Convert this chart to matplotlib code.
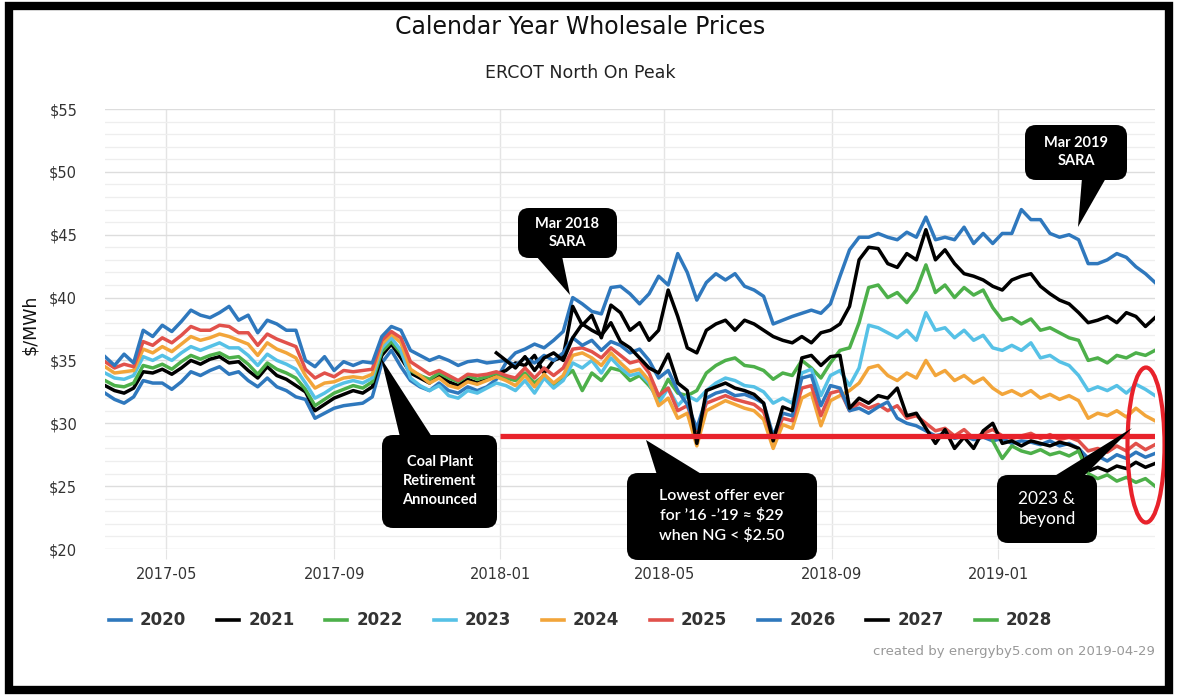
import numpy as np
import pandas as pd
import matplotlib
matplotlib.use("Agg")
import matplotlib.pyplot as plt
import matplotlib.dates as mdates
from matplotlib.ticker import MultipleLocator, FixedLocator
from matplotlib.patches import FancyBboxPatch, Polygon, Ellipse, Rectangle
from matplotlib.transforms import Affine2D
from matplotlib.lines import Line2D

# ---------------- data ----------------
dates = list(pd.date_range("2017-03-17", periods=110, freq="7D")) + [pd.Timestamp("2019-04-26")]
NA = np.nan

cy2020 = [32.4, 31.9, 31.6, 32.1, 33.4, 33.2, 33.2, 32.7, 33.3, 34.1,
          33.8, 34.2, 34.5, 33.9, 34.1, 33.4, 32.9, 33.6, 32.9, 32.6,
          32.1, 31.9, 30.4, 30.8, 31.2, 31.4, 31.5, 31.6, 32.1, 34.8,
          35.8, 34.5, 33.4, 32.9, 32.6, 33.2, 32.6, 32.4, 32.9, 32.6,
          32.9, 33.5, 34.8, 35.6, 35.9, 36.3, 36.0, 36.6, 37.3, 40.0,
          39.5, 38.9, 38.7, 40.8, 40.9, 40.3, 39.5, 40.3, 41.7, 41.0,
          43.5, 42.0, 39.8, 41.2, 41.9, 41.4, 41.9, 40.9, 40.6, 40.1,
          37.9, 38.2, 38.5, 38.75, 39.0, 38.75, 39.5, 41.7, 43.8, 44.8,
          44.8, 45.1, 44.8, 44.6, 45.2, 44.8, 46.4, 44.6, 44.8, 44.6,
          45.6, 44.3, 45.1, 44.3, 45.1, 45.1, 47.0, 46.2, 46.2, 45.1,
          44.8, 45.0, 44.6, 42.7, 42.7, 43.0, 43.5, 43.2, 42.45, 41.9, 41.2]

cy2021 = [33.0, 32.6, 32.4, 32.8, 34.1, 34.0, 34.3, 33.9, 34.4, 35.0,
          34.7, 35.1, 35.3, 34.8, 34.9, 34.2, 33.6, 34.5, 33.8, 33.5,
          33.0, 32.5, 31.0, 31.5, 32.0, 32.3, 32.6, 32.4, 32.9, 35.4,
          36.3, 35.2, 34.0, 33.6, 33.2, 33.8, 33.3, 33.0, 33.5, 33.2,
          33.5, 33.9, 34.2, 34.8, 34.6, 35.4, 34.0, 35.0, 35.3, 39.3,
          37.8, 38.6, 36.8, 39.4, 38.8, 37.4, 38.0, 36.6, 37.4, 40.6,
          38.5, 36.0, 35.6, 37.4, 37.9, 38.2, 37.4, 38.2, 37.9, 37.4,
          36.9, 36.6, 36.4, 36.9, 36.4, 37.2, 37.4, 37.9, 39.3, 43.0,
          44.0, 43.9, 42.7, 42.4, 43.5, 43.0, 45.4, 43.0, 43.8, 42.7,
          41.9, 41.7, 41.4, 40.9, 40.6, 41.4, 41.7, 41.9, 40.9, 40.3,
          39.8, 39.5, 38.8, 38.0, 38.2, 38.5, 38.0, 38.8, 38.5, 37.7, 38.4]

cy2022 = [33.4, 33.0, 32.9, 33.2, 34.6, 34.4, 34.7, 34.3, 34.9, 35.4,
          35.1, 35.4, 35.6, 35.2, 35.3, 34.7, 33.9, 34.8, 34.3, 34.0,
          33.6, 32.7, 31.4, 31.9, 32.4, 32.7, 33.0, 32.8, 33.3, 35.7,
          36.5, 35.6, 34.2, 33.8, 33.5, 34.0, 33.6, 33.3, 33.8, 33.5,
          33.7, 34.0, 33.6, 33.4, 34.0, 33.2, 33.8, 33.0, 33.6, 34.2,
          32.6, 34.0, 33.4, 34.4, 34.2, 33.4, 33.8, 33.0, 32.0, 33.5,
          32.4, 32.2, 32.6, 34.0, 34.6, 35.0, 35.2, 34.6, 34.5, 34.2,
          33.5, 34.0, 33.8, 35.0, 34.4, 33.6, 34.8, 35.8, 36.0, 38.0,
          40.8, 41.0, 40.0, 40.4, 39.6, 40.6, 42.6, 40.4, 41.0, 40.0,
          40.8, 40.2, 40.6, 39.2, 38.2, 38.4, 37.9, 38.3, 37.4, 37.6,
          37.2, 36.8, 36.6, 35.0, 35.2, 34.8, 35.4, 35.2, 35.6, 35.4, 35.8]

cy2023 = [34.0, 33.6, 33.5, 33.8, 35.3, 35.0, 35.4, 35.0, 35.6, 36.1,
          35.8, 36.1, 36.4, 36.0, 36.0, 35.4, 34.6, 35.5, 35.0, 34.7,
          34.3, 33.2, 32.0, 32.4, 32.9, 33.2, 33.4, 33.2, 33.6, 36.0,
          36.8, 35.8, 33.6, 33.0, 32.6, 33.0, 32.2, 32.0, 32.6, 32.4,
          32.8, 33.2, 33.0, 32.6, 33.4, 32.4, 33.6, 32.8, 33.4, 34.8,
          34.4, 35.0, 34.0, 35.2, 34.4, 33.8, 34.0, 33.2, 31.6, 32.8,
          31.4, 32.2, 31.8, 32.6, 33.2, 33.6, 33.4, 33.0, 32.9, 32.5,
          31.6, 32.0, 31.6, 34.0, 34.3, 32.2, 33.8, 34.2, 33.0, 34.4,
          37.8, 37.6, 37.2, 36.8, 37.4, 36.6, 38.8, 37.4, 37.6, 36.8,
          37.4, 36.6, 37.0, 36.0, 35.8, 36.2, 35.8, 36.4, 35.2, 35.4,
          34.9, 34.6, 33.8, 32.6, 32.9, 32.6, 33.0, 32.4, 33.1, 32.7, 32.2]

cy2024 = [34.5, 34.0, 34.1, 34.2, 35.9, 35.6, 36.1, 35.7, 36.3, 36.9,
          36.6, 36.8, 37.1, 36.9, 36.6, 36.3, 35.4, 36.4, 35.9, 35.6,
          35.2, 33.8, 32.8, 33.2, 33.3, 33.6, 33.7, 33.6, 33.9, 36.3,
          37.1, 36.4, 34.3, 33.8, 33.2, 33.6, 33.0, 32.8, 33.3, 33.1,
          33.4, 33.7, 33.4, 33.0, 33.8, 32.9, 33.9, 33.2, 33.8, 35.4,
          35.6, 35.2, 34.6, 35.6, 34.8, 34.1, 34.3, 33.4, 31.4, 32.0,
          30.4, 30.8, 28.2, 31.0, 31.4, 31.8, 31.5, 31.2, 31.0, 30.3,
          28.0, 29.9, 29.6, 32.0, 32.4, 29.8, 31.8, 32.2, 32.6, 33.2,
          34.4, 34.6, 33.8, 33.4, 34.0, 33.6, 35.0, 33.8, 34.2, 33.4,
          33.8, 33.2, 33.6, 32.8, 32.3, 32.6, 32.2, 32.6, 32.0, 32.3,
          31.9, 32.2, 31.8, 30.4, 30.8, 30.6, 31.0, 30.5, 31.2, 30.6, 30.2]

cy2025 = [34.9, 34.4, 34.7, 34.5, 36.5, 36.2, 36.8, 36.4, 37.0, 37.7,
          37.4, 37.4, 37.8, 37.7, 37.2, 37.2, 36.2, 37.1, 36.7, 36.4,
          36.1, 34.3, 33.6, 34.0, 33.7, 34.2, 34.1, 34.2, 34.3, 36.6,
          37.3, 36.8, 34.9, 34.4, 33.9, 34.2, 33.8, 33.4, 33.9, 33.8,
          33.9, 34.1, 33.8, 33.6, 34.4, 33.6, 34.4, 33.8, 34.4, 35.9,
          36.0, 35.7, 35.2, 36.0, 35.4, 34.8, 35.0, 34.0, 32.2, 32.8,
          31.0, 31.4, 29.4, 31.6, 31.9, 32.2, 31.9, 31.7, 31.5, 30.9,
          28.8, 30.4, 30.2, 32.8, 33.0, 30.6, 32.4, 32.6, 31.0, 31.6,
          31.2, 31.5, 31.0, 31.4, 30.4, 30.6, 30.0, 29.4, 29.6, 29.0,
          29.5, 28.8, 29.2, 29.5, 29.0, 28.8, 29.0, 29.2, 28.8, 29.1,
          28.7, 28.9, 28.6, 27.8, 28.0, 27.7, 28.2, 27.8, 28.4, 27.9, 28.3]

cy2026 = [35.3, 34.6, 35.5, 34.8, 37.4, 36.9, 37.8, 37.3, 38.1, 39.0,
          38.6, 38.4, 38.8, 39.3, 38.2, 38.6, 37.2, 38.2, 37.9, 37.4,
          37.4, 35.0, 34.5, 35.3, 34.2, 34.9, 34.6, 34.9, 34.8, 36.9,
          37.7, 37.4, 35.8, 35.4, 35.0, 35.3, 35.0, 34.6, 34.9, 35.0,
          34.8, 34.9, 35.0, 34.6, 35.2, 34.8, 35.4, 35.0, 35.6, 36.8,
          36.2, 36.6, 35.8, 36.5, 36.2, 35.6, 35.9, 35.0, 33.6, 34.2,
          32.6, 31.5, 29.6, 32.0, 32.4, 32.6, 32.2, 32.3, 32.0, 31.6,
          29.0, 30.8, 30.6, 33.6, 33.8, 31.4, 33.0, 32.8, 31.0, 31.2,
          30.8, 31.3, 31.7, 30.4, 30.0, 29.8, 29.4, 29.0, 29.2, 28.8,
          29.0, 28.7, 28.9, 28.6, 28.8, 28.4, 28.6, 28.5, 28.3, 28.6,
          28.2, 28.4, 28.0, 27.2, 27.4, 27.0, 27.5, 27.2, 27.7, 27.3, 27.6]

cy2027 = [NA] * 41 + [
          35.6, 35.0, 34.4, 35.3, 34.2, 35.2, 35.6, 35.0, 36.8,
          37.9, 37.4, 37.0, 38.0, 36.5, 36.0, 35.2, 34.4, 34.0, 35.5,
          33.2, 32.6, 28.4, 32.6, 32.9, 33.2, 32.8, 32.6, 32.3, 31.6,
          28.6, 31.3, 31.0, 35.2, 35.4, 34.6, 35.3, 35.4, 31.2, 32.0,
          31.6, 32.2, 32.0, 32.8, 30.6, 30.8, 29.6, 28.4, 29.5, 28.0,
          28.9, 28.0, 29.4, 30.0, 28.4, 28.6, 28.2, 28.6, 28.4, 28.2,
          28.5, 28.3, 28.0, 26.2, 26.5, 26.2, 26.6, 26.4, 26.9, 26.5, 26.8]

cy2028 = [NA] * 93 + [
          28.6, 27.2, 28.2, 27.8, 27.6, 27.9, 27.5, 27.7, 27.4, 27.8,
          26.0, 25.6, 25.9, 25.4, 25.7, 25.3, 25.6, 25.0]

series_names = ["2020", "2021", "2022", "2023", "2024", "2025", "2026", "2027", "2028"]
series_vals = [cy2020, cy2021, cy2022, cy2023, cy2024, cy2025, cy2026, cy2027, cy2028]
series_colors = ["#2f78bd", "#000000", "#4db04a", "#56c1e6", "#f2a53a",
                 "#e1514b", "#2f78bd", "#000000", "#4db04a"]
for v in series_vals:
    assert len(v) == len(dates), len(v)

y_ticks = [20, 25, 30, 35, 40, 45, 50, 55]
x_ticks = ["2017-05-01", "2017-09-01", "2018-01-01", "2018-05-01", "2018-09-01", "2019-01-01"]
lowest_offer = 29.0
lowest_offer_start = "2018-01-01"

# ---------------- figure ----------------
W, H = 1177, 698
fig = plt.figure(figsize=(W / 100, H / 100), dpi=100)
fig.patch.set_facecolor("white")
PX = Affine2D().scale(1, -1).translate(0, H)   # image pixel coords (top-left origin)

ax = fig.add_axes([105 / W, 1 - 549 / H, 1050 / W, 440 / H])
for s in ax.spines.values():
    s.set_visible(False)

for name, vals, col in zip(series_names, series_vals, series_colors):
    ax.plot(dates, vals, color=col, lw=2.5, solid_joinstyle="round", zorder=3)

ax.plot([pd.Timestamp(lowest_offer_start), dates[-1]], [lowest_offer, lowest_offer],
        color="#e8222b", lw=3.8, zorder=5, solid_capstyle="butt")

ax.set_xlim(pd.Timestamp("2017-03-17"), pd.Timestamp("2019-04-26"))
ax.set_ylim(20, 55)
ax.yaxis.set_major_locator(FixedLocator(y_ticks))
ax.yaxis.set_minor_locator(MultipleLocator(1))
ax.set_yticklabels([f"${t}" for t in y_ticks])
xt = [mdates.date2num(pd.Timestamp(d)) for d in x_ticks]
ax.set_xticks(xt)
ax.set_xticklabels([pd.Timestamp(d).strftime("%Y-%m") for d in x_ticks])

ax.grid(True, which="major", axis="y", color="#dddddd", lw=1.0, zorder=0)
ax.grid(True, which="minor", axis="y", color="#eeeeee", lw=0.9, zorder=0)
ax.grid(True, which="major", axis="x", color="#e4e4e4", lw=1.0, zorder=0)
ax.tick_params(axis="y", which="both", length=0, pad=20, labelsize=10.5, labelcolor="#333333")
ax.tick_params(axis="x", length=7, color="#e4e4e4", pad=6, labelsize=10.5, labelcolor="#333333")
ax.set_axisbelow(True)

# titles
fig.text(580 / W, 1 - 27 / H, "Calendar Year Wholesale Prices", ha="center", va="center",
         fontsize=17, color="#111111")
fig.text(580 / W, 1 - 73 / H, "ERCOT North On Peak", ha="center", va="center",
         fontsize=12.5, color="#222222")
fig.text(30 / W, 1 - 325 / H, "$/MWh", ha="center", va="center", rotation=90,
         fontsize=12.5, color="#111111")

# legend (manual, single row)
for k, (name, col) in enumerate(zip(series_names, series_colors)):
    x0 = 109 + 108.2 * k
    fig.add_artist(Line2D([x0, x0 + 22], [620, 620], color=col, lw=2.6, transform=PX))
    fig.text((x0 + 31) / W, 1 - 620 / H, name, ha="left", va="center",
             fontsize=12, fontweight="bold", color="#333333")

fig.text(1155 / W, 1 - 651 / H, "created by energyby5.com on 2019-04-29", ha="right",
         va="center", fontsize=9.5, color="#999999")


# callouts
def callout(x0, y0, x1, y1, tail, text, cx, cy, size=10.5, weight="bold", ls=1.35):
    box = FancyBboxPatch((x0, y0), x1 - x0, y1 - y0,
                         boxstyle="round,pad=0,rounding_size=11",
                         transform=PX, facecolor="black", edgecolor="black", lw=0, zorder=10)
    fig.add_artist(box)
    fig.add_artist(Polygon(tail, closed=True, transform=PX, facecolor="black",
                           edgecolor="black", lw=0, zorder=10))
    fig.text(cx / W, 1 - cy / H, text, ha="center", va="center", color="white",
             fontsize=size, fontweight=weight, family="Lato", linespacing=ls, zorder=11)


callout(518, 208, 617, 258, [(536, 256), (562, 256), (570, 295)],
        "Mar 2018\nSARA", 567, 233)
callout(1025, 125, 1127, 180, [(1082, 178), (1106, 178), (1078, 227)],
        "Mar 2019\nSARA", 1076, 152)
callout(382, 435, 497, 528, [(381, 358), (400, 437), (432, 437)],
        "Coal Plant\nRetirement\nAnnounced", 440, 481, ls=1.45)
callout(627, 473, 817, 560, [(646, 440), (657, 475), (703, 475)],
        "Lowest offer ever\nfor \u201916 -\u201919 \u2248 $29\nwhen NG < $2.50", 722, 516,
        size=11.5, weight="semibold", ls=1.4)
callout(997, 475, 1097, 543, [(1053, 477), (1083, 477), (1132, 428)],
        "2023 &\nbeyond", 1047, 509, size=12.5, weight="normal", ls=1.35)

# red ellipse around the right end
fig.add_artist(Ellipse((1146, 445), 37, 155, transform=PX, fill=False,
                       edgecolor="#e8222b", lw=3.0, zorder=9))

# outer black frame
fig.add_artist(Rectangle((9, 6), 1160, 684, transform=PX, fill=False,
                         edgecolor="black", lw=6.0, zorder=20))

fig.savefig("out.png", dpi=100)
